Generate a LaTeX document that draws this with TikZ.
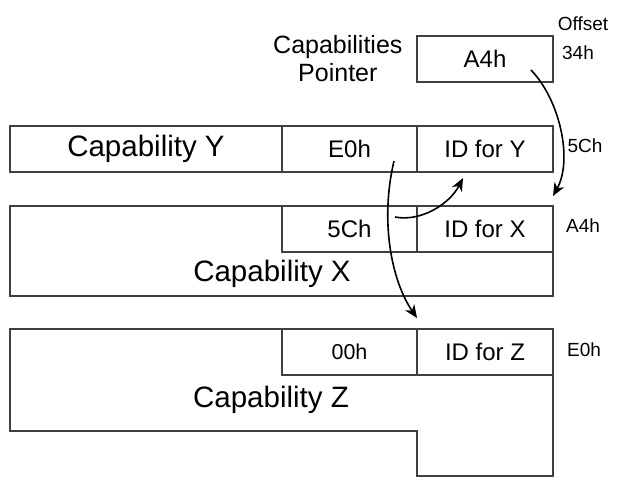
\documentclass[tikz,border=0pt]{standalone}
\usepackage{fontspec}
\setmainfont{Liberation Sans}
\usetikzlibrary{positioning, arrows.meta}

\begin{document}
\begin{tikzpicture}[
    x=1pt, y=-1pt,
    node distance=0pt,
    cell/.style={rectangle, draw=black!75, line width=1.1pt, outer sep=0pt, inner sep=0pt, minimum height=46pt, align=center},
    narrow/.style={cell, minimum width=135pt, font=\fontsize{24}{27}\selectfont},
    wide/.style={cell, minimum width=272pt, font=\fontsize{29.5}{32}\selectfont},
    big/.style={font=\fontsize{29.5}{32}\selectfont},
    offs/.style={font=\fontsize{19}{22}\selectfont},
    frame/.style={draw=black!75, line width=1.1pt},
    arr/.style={-{Stealth[length=13pt, width=11pt, inset=4pt]}, line width=1.6pt},
]
\useasboundingbox (0,0) rectangle (626,487);

% Capabilities pointer at offset 34h
\node[narrow, minimum width=136pt, anchor=north west] (ptrval) at (417,36) {A4h};
\node[left=11pt of ptrval, align=center, font=\fontsize{25}{28}\selectfont] (ptrname) {Capabilities\\Pointer};

% Capability Y row
\node[wide, anchor=north west] (ylabel) at (10,126) {Capability Y};
\node[narrow, right=of ylabel] (ynext) {E0h};
\node[narrow, right=of ynext, minimum width=136pt] (yid) {ID for Y};

% Capability X block
\draw[frame] (10,206) rectangle (553,296);
\node[narrow, anchor=north west] (xnext) at (282,206) {5Ch};
\node[narrow, right=of xnext, minimum width=136pt] (xid) {ID for X};
\node[big] (xlabel) at (272,274) {Capability X};

% Capability Z block
\draw[frame] (10,329) -- (553,329) -- (553,476) -- (417,476) -- (417,431) -- (10,431) -- cycle;
\node[narrow, anchor=north west, font=\fontsize{21.5}{24}\selectfont] (znext) at (282,329) {00h};
\node[narrow, right=of znext, minimum width=136pt] (zid) {ID for Z};
\node[big] (zlabel) at (271,400) {Capability Z};

% Offsets
\node[offs] (offhead) at (583,24) {Offset};
\node[offs] (offptr) at (578,53) {34h};
\node[offs] (offy) at (585,146) {5Ch};
\node[offs] (offx) at (583,226) {A4h};
\node[offs] (offz) at (584,350) {E0h};

% Next pointers
\draw[arr] ([xshift=-22pt, yshift=12pt]ptrval.south east) .. controls +(29,30) and +(20,-36) .. ([yshift=10pt]xid.north east);
\draw[arr] ([xshift=-22pt, yshift=-11pt]xnext.north east) .. controls +(25,5) and +(-14,27) .. ([xshift=46pt, yshift=-6pt]yid.south west);
\draw[arr] ([xshift=-23pt, yshift=11pt]ynext.south east) .. controls +(-14,59) and +(-26,-38) .. ([yshift=11pt]zid.north west);

\end{tikzpicture}
\end{document}
